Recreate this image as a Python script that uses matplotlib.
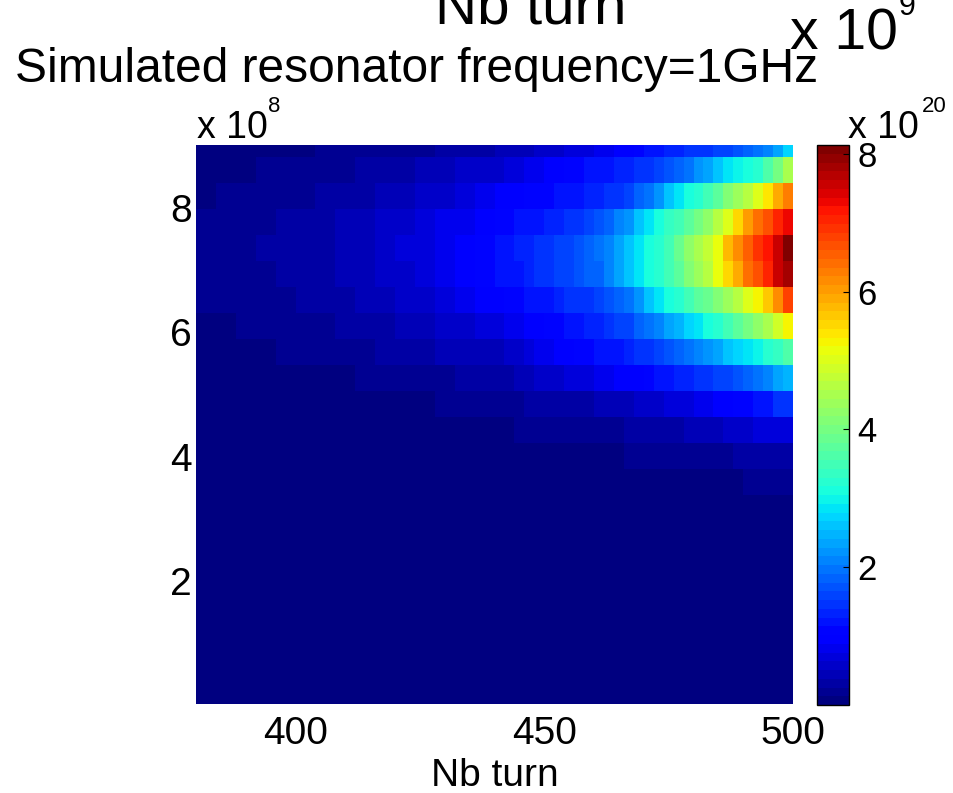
import numpy as np
import matplotlib
matplotlib.use("Agg")
import matplotlib.pyplot as plt

plt.rcParams["font.family"] = ["Liberation Sans", "DejaVu Sans"]

W, H = 954, 793

# Column edges (turns): coarse on the left, finer on the right
turn_edges = [380, 384, 388, 392, 396, 400, 404, 408, 412, 416, 420, 424, 428, 432, 436, 440,
              442, 444, 446, 448, 450, 452, 454, 456, 458, 460, 462, 464, 466, 468, 470,
              472, 474, 476, 478, 480, 482, 484, 486, 488, 490, 492, 494, 496, 498, 500]

# Row edges, 1e8 Hz, top row first
freq_edges = [9.22, 8.82, 8.40, 7.98, 7.56, 7.15, 6.73, 6.31, 5.89, 5.47, 5.06, 4.64,
              4.22, 3.80, 3.38, 2.97, 2.55, 2.13, 1.71, 1.29, 0.88, 0.46, 0.0]

# Spectral power, 1e20, one row per frequency, top row first
row_0 = [.06, .06, .06, .06, .06, .06, .19, .19, .19, .19, .19, .19, .32, .32, .32,
         .44, .44, .44, .5, .57, .57, .57, .7, .7, .7, .83, .83, .95, .95, 1.08,
         1.2, 1.25, 1.3, 1.35, 1.4, 1.45, 1.5, 1.55, 1.6, 1.7, 1.8, 1.95, 2.1, 2.35, 2.7]
row_1 = [.06, .06, .06, .19, .19, .19, .19, .19, .32, .32, .32, .44, .44, .57, .57,
         .6, .7, .7, .83, .83, .95, .95, 1.08, 1.08, 1.15, 1.2, 1.25, 1.3, 1.35, 1.4,
         1.5, 1.6, 1.75, 1.9, 2.0, 2.2, 2.4, 2.65, 2.85, 3.0, 3.15, 3.3, 3.6, 4.0, 4.5]
row_2 = [.06, .19, .19, .19, .19, .19, .32, .32, .32, .44, .44, .57, .57, .7, .83,
         .9, .95, 1.0, 1.05, 1.1, 1.1, 1.15, 1.2, 1.25, 1.3, 1.35, 1.4, 1.5, 1.65, 1.8,
         2.0, 2.25, 2.6, 2.9, 3.1, 3.3, 3.5, 3.8, 4.1, 4.35, 4.7, 5.0, 5.4, 5.9, 6.3]
row_3 = [.19, .19, .19, .19, .32, .32, .32, .44, .44, .57, .57, .7, .83, .83, .95,
         1.05, 1.1, 1.15, 1.2, 1.25, 1.3, 1.35, 1.4, 1.5, 1.6, 1.7, 1.85, 2.05, 2.25, 2.6,
         2.9, 3.15, 3.35, 3.55, 3.8, 4.0, 4.3, 4.6, 5.0, 5.5, 6.0, 6.4, 6.7, 7.0, 7.3]
row_4 = [.19, .19, .19, .32, .32, .32, .32, .44, .44, .57, .7, .7, .83, .95, 1.08,
         1.2, 1.25, 1.3, 1.35, 1.4, 1.5, 1.6, 1.65, 1.75, 1.85, 1.95, 2.1, 2.35, 2.6, 2.85,
         3.05, 3.3, 3.55, 3.9, 4.2, 4.45, 4.75, 5.2, 5.8, 6.2, 6.6, 6.95, 7.2, 7.6, 8.1]
row_5 = [.19, .19, .19, .19, .32, .32, .32, .44, .44, .57, .57, .7, .83, .95, 1.08,
         1.15, 1.2, 1.25, 1.3, 1.4, 1.5, 1.55, 1.6, 1.7, 1.8, 1.9, 2.1, 2.3, 2.55, 2.85,
         3.1, 3.3, 3.5, 3.8, 4.1, 4.4, 4.7, 5.1, 5.5, 5.9, 6.4, 6.7, 7.1, 7.5, 7.8]
row_6 = [.19, .19, .19, .19, .19, .32, .32, .32, .44, .44, .57, .57, .7, .83, .95,
         1.0, 1.05, 1.1, 1.15, 1.2, 1.25, 1.35, 1.4, 1.45, 1.5, 1.6, 1.7, 1.85, 2.0, 2.25,
         2.55, 2.85, 3.1, 3.3, 3.5, 3.7, 3.9, 4.15, 4.4, 4.7, 5.0, 5.3, 5.6, 6.2, 6.8]
row_7 = [.06, .06, .19, .19, .19, .19, .19, .32, .32, .32, .44, .44, .57, .57, .7,
         .75, .8, .85, .95, 1.0, 1.05, 1.1, 1.15, 1.2, 1.3, 1.35, 1.45, 1.55, 1.65, 1.8,
         2.0, 2.15, 2.3, 2.5, 2.7, 2.85, 3.05, 3.25, 3.5, 3.7, 3.95, 4.2, 4.5, 4.9, 5.3]
row_8 = [.06, .06, .06, .06, .19, .19, .19, .19, .19, .32, .32, .32, .44, .44, .44,
         .5, .57, .6, .7, .8, .85, .95, 1.0, 1.05, 1.1, 1.15, 1.2, 1.25, 1.3, 1.4,
         1.5, 1.6, 1.7, 1.85, 2.0, 2.1, 2.2, 2.4, 2.55, 2.7, 2.85, 3.0, 3.2, 3.4, 3.6]
row_9 = [.06, .06, .06, .06, .06, .06, .06, .06, .19, .19, .19, .19, .19, .32, .32,
         .32, .38, .44, .5, .55, .57, .6, .65, .7, .75, .8, .85, .9, .95, 1.0,
         1.1, 1.15, 1.2, 1.3, 1.35, 1.45, 1.5, 1.6, 1.65, 1.7, 1.85, 1.95, 2.05, 2.3, 2.45]
row_10 = [.06, .06, .06, .06, .06, .06, .06, .06, .06, .06, .06, .06, .19, .19, .19,
          .19, .19, .25, .32, .32, .32, .32, .32, .32, .32, .44, .44, .44, .44, .57,
          .57, .57, .7, .7, .7, .83, .83, .95, .95, 1.08, 1.08, 1.2, 1.2, 1.4, 1.5]
row_11 = [.06, .06, .06, .06, .06, .06, .06, .06, .06, .06, .06, .06, .06, .06, .06,
          .06, .06, .19, .19, .19, .19, .19, .19, .19, .19, .19, .19, .19, .32, .32,
          .32, .32, .32, .32, .44, .44, .44, .44, .57, .57, .57, .7, .7, .7, .7]
row_12 = [.06, .06, .06, .06, .06, .06, .06, .06, .06, .06, .06, .06, .06, .06, .06,
          .06, .06, .06, .06, .06, .06, .06, .06, .06, .06, .06, .06, .06, .19, .19,
          .19, .19, .19, .19, .19, .19, .19, .19, .19, .32, .32, .32, .32, .32, .32]
row_13 = [.06, .06, .06, .06, .06, .06, .06, .06, .06, .06, .06, .06, .06, .06, .06,
          .06, .06, .06, .06, .06, .06, .06, .06, .06, .06, .06, .06, .06, .06, .06,
          .06, .06, .06, .06, .06, .06, .06, .06, .06, .06, .19, .19, .19, .19, .19]
quiet_row = [.02] * (len(turn_edges) - 1)

rows = [row_0, row_1, row_2, row_3, row_4, row_5, row_6, row_7, row_8, row_9,
        row_10, row_11, row_12, row_13] + [quiet_row] * 8
power = np.array(rows)

x_ticks = [400, 450, 500]
y_ticks = [2, 4, 6, 8]
cbar_ticks = [2, 4, 6, 8]


def fx(px):
    return px / W


def fy(py):
    return 1 - py / H


fig = plt.figure(figsize=(W / 100, H / 100), dpi=100)

# Main heatmap
ax = fig.add_axes([fx(196), fy(704), (793 - 196) / W, (704 - 145) / H])
cmap = plt.get_cmap("jet", 64)
mesh = ax.pcolormesh(turn_edges, freq_edges, power, cmap=cmap, vmin=0, vmax=8.13)
ax.set_xlim(380, 500)
ax.set_ylim(0.03, 9.01)
ax.set_xticks(x_ticks)
ax.set_yticks(y_ticks)
ax.tick_params(axis="x", labelsize=28, length=0, pad=9)
ax.tick_params(axis="y", labelsize=28, length=0, pad=3)
for s in ax.spines.values():
    s.set_visible(False)
ax.set_xlabel("Nb turn", fontsize=28, labelpad=4)

# Colorbar
cax = fig.add_axes([fx(817), fy(705), (849 - 817) / W, (705 - 145) / H])
cbar = fig.colorbar(mesh, cax=cax)
cbar.set_ticks(cbar_ticks)
cbar.ax.tick_params(labelsize=25, direction="in", length=4, width=0.8, pad=6, color="black")
cbar.outline.set_linewidth(1)

# Stacked titles and exponents left over in the figure
fig.text(fx(531), fy(24), "Nb turn", fontsize=42, ha="center", va="baseline")
fig.text(fx(15), fy(82), "Simulated resonator frequency=1GHz", fontsize=34.5, ha="left", va="baseline")
fig.text(fx(790), fy(50), "x 10", fontsize=41, ha="left", va="baseline")
fig.text(fx(899), fy(15), "9", fontsize=22, ha="left", va="baseline")
fig.text(fx(197), fy(138), "x 10", fontsize=27, ha="left", va="baseline")
fig.text(fx(268), fy(112), "8", fontsize=16, ha="left", va="baseline")
fig.text(fx(848), fy(138), "x 10", fontsize=27, ha="left", va="baseline")
fig.text(fx(922), fy(112), "20", fontsize=16, ha="left", va="baseline")

fig.savefig("out.png", dpi=100)
